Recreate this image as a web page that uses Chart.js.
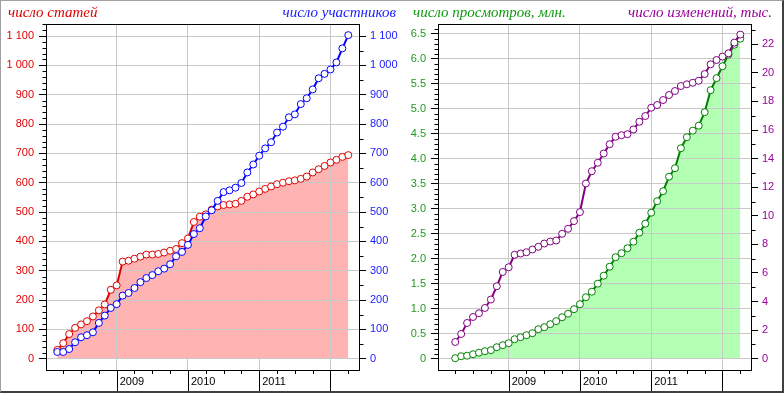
<!DOCTYPE html>
<html>
<head>
<meta charset="utf-8">
<script src="https://cdn.jsdelivr.net/npm/chart.js@4.4.0/dist/chart.umd.min.js"></script>
<style>
    body { margin: 0; background: #fff; }
    #wrap { position: relative; width: 784px; height: 393px; overflow: hidden; }
    canvas { position: absolute; top: 0; }
    .ttl { position: absolute; top: 3px; font: italic 15px "Liberation Serif", serif; line-height: 18px; white-space: nowrap; }
    #frame { position: absolute; left: 0; top: 0; width: 784px; height: 393px; box-sizing: border-box;
             border-top: 1px solid #a0a0a0; border-left: 1px solid #a0a0a0;
             border-right: 2px solid #404040; border-bottom: 2px solid #404040; pointer-events: none; }
</style>
</head>
<body>
<div id="wrap">
    <canvas id="chartLeft" width="400" height="393" style="left:0"></canvas>
    <canvas id="chartRight" width="384" height="393" style="left:400px"></canvas>
    <div class="ttl" style="left:8px;color:#e00000">число статей</div>
    <div class="ttl" style="right:388px;color:#1a1aff">число участников</div>
    <div class="ttl" style="left:413px;color:#119911">число просмотров, млн.</div>
    <div class="ttl" style="right:12px;color:#990099">число изменений, тыс.</div>
    <div id="frame"></div>
</div>
<script>
//месяц первой точки каждой панели
var startLeft = '2008-03';
var startRight = '2008-04';
var yearLabels = ['2009', '2010', '2011'];

//левая панель: статьи и участники (помесячно)
var articles = [30, 53, 84, 105, 117, 128, 144, 165, 185, 235, 250, 331, 334, 341, 348, 355, 355, 357, 362, 368,
    374, 394, 410, 466, 484, 492, 508, 519, 524, 526, 528, 538, 552, 560, 570, 579, 587, 595, 600, 605,
    608, 613, 621, 635, 646, 657, 669, 678, 688, 694];
var members = [23, 23, 33, 56, 73, 80, 90, 122, 147, 173, 186, 215, 224, 241, 261, 275, 285, 298, 307, 322,
    349, 364, 388, 425, 445, 485, 506, 538, 568, 574, 583, 599, 635, 662, 692, 717, 738, 771, 791, 823,
    833, 868, 888, 918, 956, 971, 986, 1010, 1058, 1103];

//правая панель: просмотры (млн.) и изменения (тыс.)
var views = [0.01, 0.05, 0.06, 0.09, 0.12, 0.15, 0.17, 0.23, 0.27, 0.31, 0.39, 0.43, 0.47, 0.51, 0.59, 0.63,
    0.69, 0.75, 0.83, 0.90, 0.99, 1.09, 1.23, 1.34, 1.50, 1.66, 1.84, 2.03, 2.11, 2.21, 2.34, 2.52, 2.70,
    2.92, 3.15, 3.35, 3.64, 3.81, 4.21, 4.43, 4.56, 4.66, 4.93, 5.37, 5.61, 5.85, 6.08, 6.28, 6.40];
var edits = [1.17, 1.73, 2.50, 2.92, 3.18, 3.55, 4.14, 5.07, 6.07, 6.40, 7.27, 7.36, 7.45, 7.64, 7.83, 8.06,
    8.20, 8.27, 8.74, 9.09, 9.63, 10.26, 12.26, 13.12, 13.71, 14.36, 15.01, 15.53, 15.64, 15.71, 16.04,
    16.58, 16.98, 17.56, 17.75, 18.10, 18.45, 18.73, 19.08, 19.20, 19.31, 19.45, 19.92, 20.60, 20.90,
    21.14, 21.37, 22.12, 22.68];

//подписи осей Y
var articleTicks = [0, 100, 200, 300, 400, 500, 600, 700, 800, 900, 1000, 1100];
var viewTicks = [0, 0.5, 1, 1.5, 2, 2.5, 3, 3.5, 4, 4.5, 5, 5.5, 6, 6.5];
var editTicks = [0, 2, 4, 6, 8, 10, 12, 14, 16, 18, 20, 22];

//деления по кварталам (месяцы от января 2008)
var quarterTicks = [];
for (var q = 3; q <= 51; q += 3) quarterTicks.push(q);

Chart.defaults.font.family = '"Liberation Sans", Arial, sans-serif';
Chart.defaults.font.size = 11;

function monthIndex(label) {
    var p = label.split('-');
    return (+p[0] - 2008) * 12 + (+p[1] - 1);
}

function thousands(v) {
    return String(v).replace(/\B(?=(\d{3})+(?!\d))/g, ' ');
}

//рамка, деления по оси X и мелкие деления по осям Y
var extras = {
    id: 'extras',
    afterDraw: function (chart, args, opts) {
        var ctx = chart.ctx, a = chart.chartArea, xs = chart.scales.x;
        ctx.save();
        ctx.strokeStyle = '#000';
        ctx.lineWidth = 1;
        ctx.beginPath();
        ctx.rect(Math.round(a.left) + 0.5, Math.round(a.top) + 0.5, Math.round(a.right - a.left), Math.round(a.bottom - a.top));
        quarterTicks.forEach(function (v) {
            var px = Math.round(xs.getPixelForValue(v)) + 0.5;
            ctx.moveTo(px, a.bottom);
            ctx.lineTo(px, v % 12 === 0 ? chart.height : a.bottom + 4);
        });
        Object.keys(opts.minor).forEach(function (id) {
            var s = chart.scales[id], step = opts.minor[id][0], every = opts.minor[id][1];
            var left = s.position === 'left';
            var edge = Math.round(left ? a.left : a.right) + 0.5;
            for (var k = 1; k * step <= s.max; k++) {
                if (k % every === 0) continue;
                var py = Math.round(s.getPixelForValue(k * step)) + 0.5;
                ctx.moveTo(edge, py);
                ctx.lineTo(edge + (left ? -4 : 4), py);
            }
        });
        ctx.stroke();
        ctx.restore();
    }
};

function xAxis() {
    return {
        type: 'linear', min: 0.1, max: 52.8,
        afterBuildTicks: function (s) { s.ticks = quarterTicks.map(function (v) { return { value: v }; }); },
        afterFit: function (s) { s.height = 23; },
        grid: {
            color: function (c) { return c.tick && c.tick.value % 12 === 0 ? '#c8c8c8' : 'rgba(0,0,0,0)'; },
            drawTicks: false
        },
        border: { color: '#000' },
        ticks: {
            autoSkip: false, maxRotation: 0, align: 'start', labelOffset: 3, padding: 5, color: '#000',
            callback: function (v) {
                var y = String(2008 + v / 12);
                return v % 12 === 0 && yearLabels.indexOf(y) >= 0 ? y : '';
            }
        }
    };
}

function yAxis(pos, min, max, ticks, color, fmt, width, pad, grid) {
    return {
        position: pos, min: min, max: max,
        afterBuildTicks: function (s) { s.ticks = ticks.map(function (v) { return { value: v }; }); },
        afterFit: function (s) { s.width = width; },
        grid: { color: '#c8c8c8', drawOnChartArea: grid, tickLength: 7, tickColor: '#000' },
        border: { color: '#000' },
        ticks: { color: color, padding: pad, callback: fmt }
    };
}

function series(label, values, start, axis, color, fill, order) {
    var x0 = monthIndex(start);
    return {
        label: label,
        data: values.map(function (v, i) { return { x: x0 + i, y: v }; }),
        yAxisID: axis,
        order: order,
        borderColor: color,
        borderWidth: 2,
        pointRadius: 3.5,
        pointBorderWidth: 1,
        pointBackgroundColor: '#fff',
        pointBorderColor: color,
        backgroundColor: fill || 'rgba(0,0,0,0)',
        fill: fill ? 'origin' : false,
        tension: 0
    };
}

function baseOptions(scales, minor) {
    return {
        responsive: false,
        animation: false,
        layout: { padding: { top: 24 } },
        scales: scales,
        plugins: {
            legend: { display: false },
            tooltip: { enabled: false },
            filler: { drawTime: 'beforeDraw' },
            extras: { minor: minor }
        }
    };
}

new Chart(document.getElementById('chartLeft'), {
    type: 'line',
    data: {
        datasets: [
            series('число статей', articles, startLeft, 'y', '#e00000', '#ffb3b3', 2),
            series('число участников', members, startLeft, 'y1', '#0000ff', null, 1)
        ]
    },
    options: baseOptions({
        x: xAxis(),
        y: yAxis('left', -38.5, 1141, articleTicks, '#e00000', thousands, 46, 5, true),
        y1: yAxis('right', -38.5, 1141, articleTicks, '#1a1aff', thousands, 41, 4, false)
    }, { y: [20, 5], y1: [50, 2] }),
    plugins: [extras]
});

new Chart(document.getElementById('chartRight'), {
    type: 'line',
    data: {
        datasets: [
            series('число просмотров, млн.', views, startRight, 'y', '#008000', '#b3ffb3', 2),
            series('число изменений, тыс.', edits, startRight, 'y1', '#800080', null, 1)
        ]
    },
    options: baseOptions({
        x: xAxis(),
        y: yAxis('left', -0.226, 6.694, viewTicks, '#229922', function (v) { return v === 0 ? '0' : v.toFixed(1); }, 38, 5, true),
        y1: yAxis('right', -0.79, 23.42, editTicks, '#990099', function (v) { return String(v); }, 33, 4, false)
    }, { y: [0.1, 5], y1: [1, 2] }),
    plugins: [extras]
});
</script>
</body>
</html>
